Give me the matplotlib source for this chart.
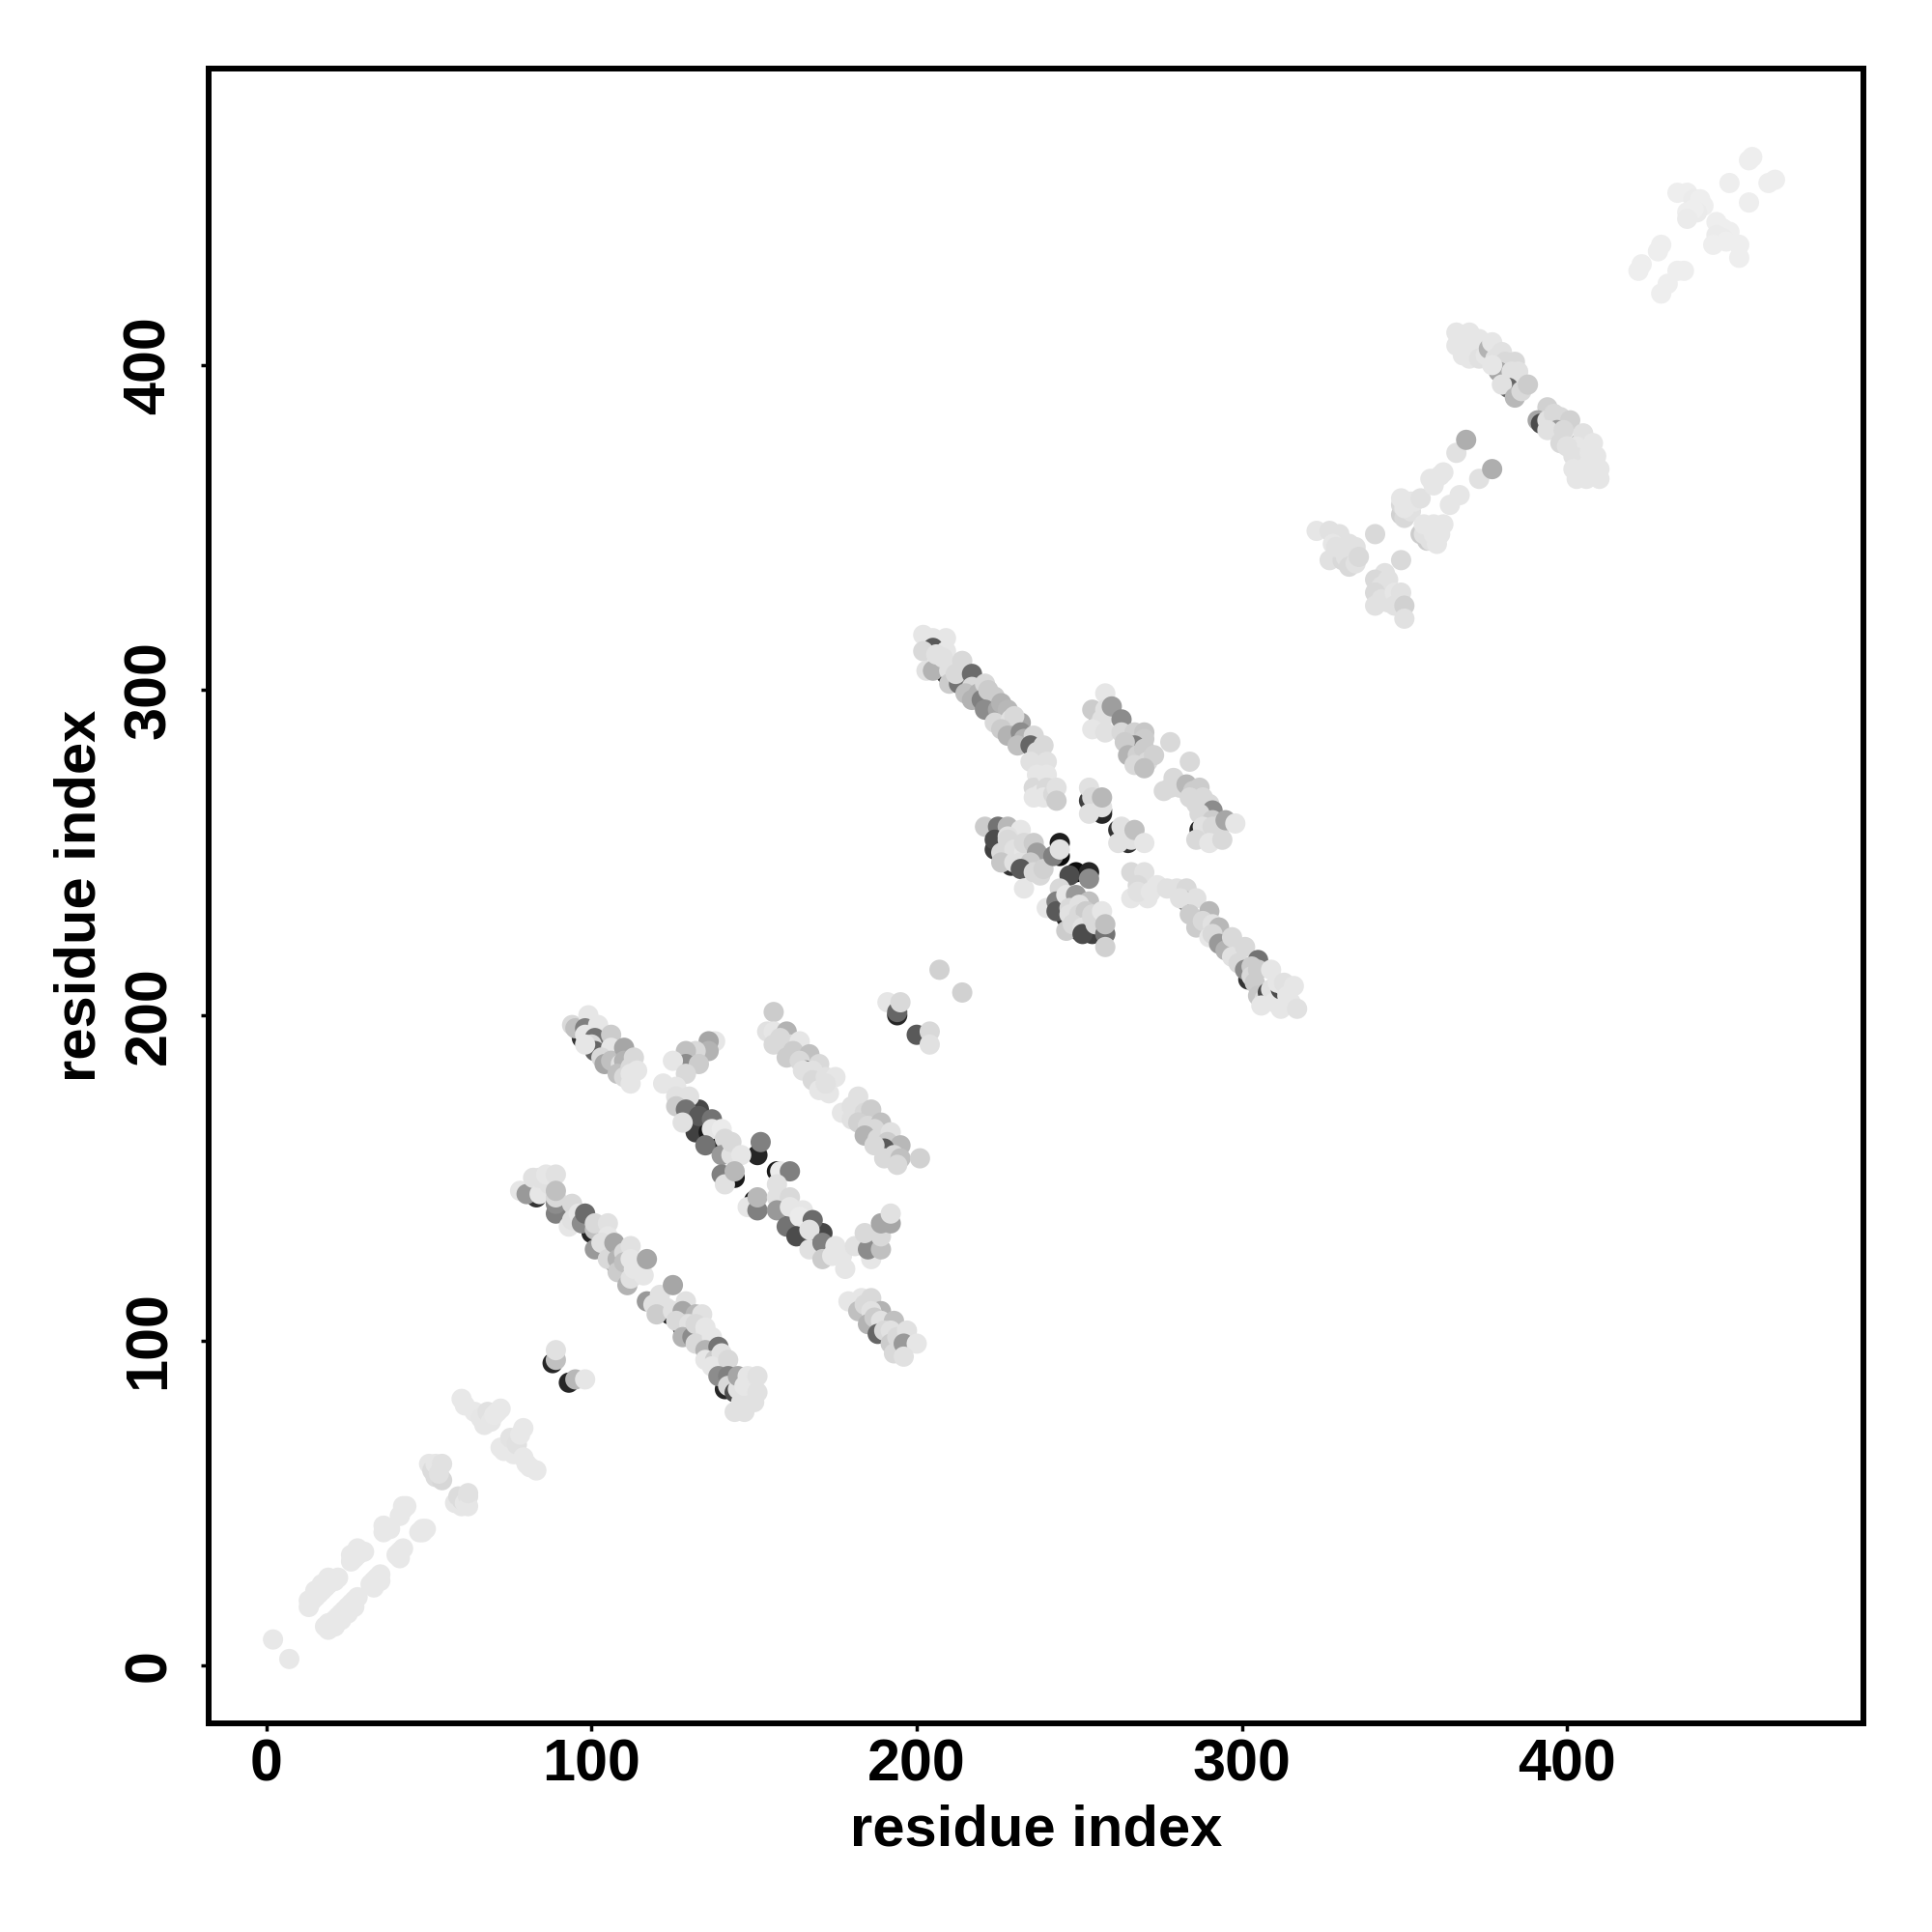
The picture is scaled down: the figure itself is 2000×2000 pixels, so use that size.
import numpy as np
import matplotlib
matplotlib.use("Agg")
from matplotlib import pyplot as plt

# contacts: (residue i, residue j, shade score)
low_up = [(2,8,.91),(7,2,.91),(13,18,.91),(14,20,.91),(15,21,.91),(16,22,.91),(17,23,.91),(18,24,.91),(19,25,.91),(20,26,.91),
          (21,26,.91),(22,27,.91),(26,32,.91),(27,33,.91),(28,34,.91),(29,35,.91),(30,35,.91),(36,41,.91),(37,42,.91),(38,42,.91),
          (41,46,.91),(42,48,.91),(43,49,.91),(13,20,.91),(15,23,.91),(17,25,.91),(19,27,.91),(26,34,.91),(28,36,.91),(36,43,.91),(42,49,.91)]
low_down = [(18,12,.91),(19,13,.91),(20,13,.91),(21,14,.91),(22,15,.91),(23,16,.91),(24,17,.91),(25,18,.91),(26,19,.91),(27,20,.91),
            (28,21,.91),(32,25,.91),(33,26,.91),(34,27,.91),(35,28,.91),(40,34,.91),(41,35,.91),(42,36,.91),(47,41,.91),(48,42,.91),(49,42,.91),
            (19,11,.91),(21,12,.91),(23,14,.91),(25,16,.91),(27,18,.91),(33,24,.91),(35,26,.91),(41,33,.91),(48,41,.91)]
low_blobs = [(50,62,.9),(51,60,.86),(52,58,.86),(53,61,.86),(54,57,.84),(52,62,.9),(53,59,.88),(54,62,.88),
             (58,50,.9),(59,52,.86),(60,49,.9),(60,51,.86),(61,50,.9),(62,52,.88),(62,49,.9),(62,53,.88),
             (60,82,.91),(61,80,.91),(64,78,.91),(66,76,.9),(67,74,.9),(68,78,.88),(69,75,.9),(70,77,.91),(71,78,.91),(72,79,.91),
             (72,67,.91),(73,66,.91),(75,70,.89),(76,65,.91),(77,68,.88),(78,71,.91),(79,73,.91),(79,64,.91),(80,62,.91),(81,61,.91),(83,60,.91)]
small_pair = [(88,93,.15),(89,94,.75),(89,97,.88),(93,87,.15),(95,88,.72),(98,88,.9)]

band_a = [(78,146,.9),(80,145,.6),(83,144,.2),(84,145,.9),(82,150,.88),(85,147,.9),(84,150,.88),(87,148,.88),(86,151,.9),(89,151,.88),(89,139,.5),(89,142,.55),(89,144,.85),(89,146,.75),
          (94,142,.85),(93,135,.9),(94,137,.88),(96,139,.9),(97,136,.55),(98,139,.42),(100,133,.15),(101,134,.75),(101,136,.85),(105,136,.88),(101,128,.6),(104,128,.2),(105,129,.85),(104,131,.1),(105,132,.9),
          (103,130,.88),(105,125,.85),(107,130,.65),(107,124,.1),(108,125,.7),(110,127,.85),(112,129,.88),(108,121,.8),(110,124,.75),(111,117,.7),(112,119,.88),(112,125,.9),(113,122,.9),(115,122,.9),(116,120,.9),(117,125,.65)]
band_b = [(117,112,.6),(119,111,.88),(121,114,.88),(125,117,.65),(129,112,.88),(122,110,.88),(123,110,.88),(120,108,.8),(124,108,.1),(125,109,.88),(127,108,.15),(128,109,.65),(132,108,.72),
          (128,104,.2),(129,105,.85),(126,106,.85),(130,105,.88),(134,108,.88),(128,101,.7),(131,101,.55),(132,105,.85),(134,101,.15),(135,102,.88),(135,104,.9),(132,99,.85),(137,101,.9),(135,97,.7),(139,98,.45),(135,94,.9),(138,94,.8),(140,96,.88),(137,92,.9),(142,94,.85),
          (139,89,.55),(142,89,.5),(141,85,.15),(142,86,.85),(144,84,.3),(145,85,.88),(145,89,.65),(144,78,.88),(147,78,.88),(146,81,.88),(150,81,.88),(147,86,.9),(148,89,.9),(151,84,.88),(151,89,.88)]
band_c = [(94,197,.85),(95,196,.75),(99,200,.9),(98,196,.5),(102,197,.9),(97,193,.2),(98,194,.9),(101,193,.45),(106,194,.8),(100,191,.85),(101,189,.4),(98,191,.9),
          (105,189,.1),(106,190,.9),(103,187,.85),(104,185,.65),(106,186,.75),(110,190,.65),(108,184,.15),(109,185,.88),(110,186,.7),(108,182,.75),(113,187,.85),(110,181,.85),(112,179,.9),(112,184,.85),(112,182,.9),(114,183,.9)]
v_left = [(138,192,.9),(136,192,.65),(136,189,.7),(132,189,.85),(129,189,.75),(129,185,.55),(133,185,.8),(125,186,.9),(129,182,.85),(122,179,.9),(126,178,.9)]
mid_band = [(126,175,.88),(130,175,.88),(126,172,.8),(129,171,.45),(132,168,.12),(133,169,.35),(133,171,.28),(128,167,.88),(137,168,.45),(132,164,.25),(136,164,.1),(137,165,.9),(140,165,.92),
            (135,160,.45),(140,161,.1),(141,162,.85),(140,157,.6),(143,157,.88),(143,161,.85),(146,157,.9),
            (151,157,.15),(152,161,.5),(144,150,.1),(140,151,.5),(141,148,.88),(144,152,.72),
            (157,152,.1),(158,152,.92),(161,152,.5),(157,148,.88),(150,143,.1),(148,141,.9),(151,140,.5),(151,144,.72),
            (157,144,.88),(161,144,.85),(157,140,.6),(160,140,.2),(161,141,.9),(165,140,.9),(160,135,.45),(163,137,.1),(164,138,.92),(168,137,.42),(163,132,.3),(166,133,.15),(167,134,.88),(167,128,.88),
            (171,130,.5),(171,133,.28),(171,125,.8),(174,126,.9),(175,129,.9),(177,126,.9),(178,122,.9)]
v_right = [(181,129,.88),(186,125,.9),(185,128,.55),(189,128,.75),(184,133,.85),(189,132,.85),(189,136,.65),(192,136,.65),(192,139,.88)]
band_d = [(179,112,.9),(183,113,.9),(186,113,.85),(182,109,.75),(184,111,.85),(189,109,.7),(185,108,.15),(186,109,.88),(185,105,.7),(187,107,.8),(188,105,.1),(189,106,.88),(193,106,.75),(188,102,.4),(190,103,.85),
          (191,102,.15),(192,103,.88),(192,99,.8),(194,101,.85),(193,96,.85),(197,103,.88),(196,99,.6),(200,99,.9),(196,95,.88)]
band_e = [(156,201,.8),(154,195,.88),(156,195,.9),(160,195,.7),(159,191,.4),(156,191,.85),(158,193,.85),(161,191,.85),(164,192,.9),(162,189,.8),(160,187,.8),(167,188,.75),(164,186,.85),
          (170,185,.85),(166,183,.45),(165,183,.88),(168,183,.88),(168,180,.85),(172,181,.88),(175,181,.9),(170,177,.9),(173,176,.9),(172,179,.88)]
band_f = [(182,175,.88),(177,170,.9),(180,172,.88),(180,168,.88),(184,170,.85),(186,171,.8),(182,167,.82),(185,166,.85),(189,167,.75),(186,164,.15),(187,165,.85),(184,163,.7),(188,162,.85),(192,164,.88),(191,161,.8),(195,160,.72),
          (190,159,.35),(187,160,.85),(193,157,.85),(190,156,.85),(195,156,.75),(194,154,.85),(201,156,.82)]
small_top = [(191,204,.9),(194,200,.15),(194,201,.4),(195,204,.85),(200,194,.35),(204,195,.85),(204,191,.88),(207,214,.82),(214,207,.82)]

band_g = [(202,317,.9),(205,316,.9),(209,316,.9),(205,313,.35),(202,312,.85),(203,306,.88),(205,306,.7),(209,312,.9),(207,309,.15),(208,310,.88),(206,311,.88),(209,305,.2),(210,306,.88),
          (214,309,.85),(210,302,.8),(213,302,.45),(212,305,.85),(217,305,.42),(217,301,.85),(215,299,.75),(217,297,.7),(219,299,.7),(221,302,.85),(220,297,.5),(222,300,.8),(224,298,.8),(221,294,.55),
          (225,294,.65),(226,296,.7),(228,294,.72),(224,290,.85),(228,290,.1),(229,291,.88),(232,290,.65),(230,292,.85),(226,288,.8),(228,286,.7),(232,287,.55),(233,285,.7),(236,286,.85),(231,283,.75),(235,283,.4),
          (237,281,.85),(239,283,.85),(235,278,.88),(240,278,.88),(238,276,.88),(237,274,.9),(236,270,.85),(236,267,.9),(240,274,.9),(238,268,.9),(240,270,.85),(239,267,.9),(242,268,.85),(243,270,.88),(243,266,.8)]
center_up = [(253,270,.88),(253,266,.25),(254,267,.85),(257,262,.15),(257,263,.15),(257,264,.88),(253,262,.88),(257,267,.72),
             (262,257,.2),(263,258,.88),(264,256,.15),(265,253,.2),(266,254,.88),(267,257,.75),(262,253,.88),(270,253,.9)]
band_h = [(258,299,.9),(254,294,.8),(257,293,.1),(258,294,.88),(256,290,.2),(257,291,.88),(254,288,.9),(260,295,.62),(263,291,.55),(258,287,.88),(263,287,.85),(267,287,.82),
          (270,287,.78),(270,285,.8),(267,283,.5),(264,284,.8),(265,280,.7),(268,280,.82),(270,282,.8),(271,278,.85),(278,284,.85),(273,280,.82),(267,277,.85),(270,276,.75)]
band_i = [(284,278,.85),(279,273,.85),(276,269,.85),(278,270,.85),(281,270,.85),(283,271,.72),(287,270,.8),(285,269,.8),(284,267,.85),(288,267,.85),(286,265,.85),(290,265,.85),(291,263,.55),(287,262,.85),(291,260,.8),
          (287,257,.15),(288,258,.88),(290,257,.2),(291,258,.85),(293,258,.2),(294,259,.85),(286,254,.85),(290,253,.9),(294,254,.85),(295,260,.65),(298,259,.9)]
center_left = [(221,258,.8),(225,258,.45),(228,258,.72),(232,257,.9),(224,254,.3),(224,251,.25),(227,254,.1),(228,255,.88),(228,254,.85),(226,250,.85),(229,250,.15),(230,251,.88),(226,247,.78),
               (229,246,.2),(230,247,.88),(232,249,.2),(233,250,.9),(232,247,.88),(233,253,.85),(236,253,.8),(237,250,.62),(235,247,.8),(232,245,.35),(233,239,.9),(236,244,.85),(238,243,.85),(239,245,.82),
               (242,249,.5),(244,249,.05),(244,251,.88),(244,253,.12),(247,243,.3),(249,244,.05),(253,242,.55),(253,244,.15)]
center_low = [(240,233,.9),(244,239,.85),(243,235,.5),(243,232,.35),(246,237,.9),(249,237,.6),(247,233,.85),(253,235,.75),(246,230,.15),(247,231,.88),(250,234,.88),(249,230,.15),(250,231,.85),
              (252,232,.8),(254,231,.85),(246,226,.8),(248,228,.85),(250,226,.1),(251,227,.88),(254,225,.25),(251,225,.3),(253,229,.1),(254,230,.85),(255,228,.85),(257,232,.9),(258,225,.45),(258,228,.75),(258,221,.82)]
band_j = [(266,244,.85),(270,244,.88),(266,236,.9),(271,236,.9),(268,240,.85),(268,238,.88),(272,238,.9),(274,240,.9),(277,239,.88),(280,239,.88),(283,239,.85),(283,235,.45),(281,236,.88),
          (286,236,.88),(284,231,.8),(290,232,.72),(286,227,.8),(288,229,.85),(290,227,.1),(291,228,.88),(293,227,.72),(290,224,.9),(291,225,.85),(293,222,.6),(295,220,.7),(297,224,.85),(297,218,.88),
          (299,216,.85),(301,221,.85),(301,214,.55),(305,217,.45),(303,215,.8),(302,211,.2),(303,212,.85),(305,214,.8),(304,210,.8),(309,214,.9),(305,206,.78),(307,205,.85),(308,207,.3),(309,208,.88),(306,203,.9),(310,204,.9),(312,208,.3),
          (313,209,.88),(311,210,.9),(313,210,.88),(316,209,.9),(314,206,.9),(312,202,.9),(315,204,.9),(317,202,.88)]

upper_left = [(323,349,.9),(327,349,.88),(330,348,.88),(328,345,.9),(330,343,.88),(333,345,.88),(327,340,.88),(331,340,.85),(332,341,.88),(335,344,.88),(329,344,.88),(333,338,.85),(335,339,.88),(336,341,.85),(341,348,.85),(349,340,.85),
              (344,336,.88),(341,334,.85),(345,334,.88),(343,332,.88),(341,330,.85),(343,328,.88),(341,326,.88),(345,327,.88),(347,330,.9),(347,326,.88),(349,330,.88),(350,326,.82),(350,322,.88)]
upper_mid = [(349,354,.82),(350,353,.85),(352,355,.88),(349,357,.85),(350,356,.9),(349,359,.9),(352,358,.9),(353,358,.9),(355,359,.88),(359,363,.9),(358,365,.9),(361,366,.9),(362,367,.9),(366,373,.88),(369,377,.68),
             (355,348,.8),(357,346,.8),(358,346,.88),(356,348,.88),(356,351,.9),(359,351,.9),(359,348,.9),(361,348,.9),(360,345,.9),(362,351,.9),(364,357,.9),(367,360,.9),(373,365,.88),(377,368,.68)]
upper_band = [(366,410,.9),(366,406,.9),(370,410,.9),(368,407,.9),(368,403,.9),(370,402,.9),(371,405,.9),(373,408,.9),(373,402,.88),(375,403,.9),(376,405,.7),(377,407,.9),(378,402,.88),(380,404,.88),(381,401,.85),
              (384,401,.85),(379,398,.65),(377,400,.9),(385,398,.88),(383,398,.88),(382,393,.4),(380,394,.88),(384,390,.72),(386,392,.85),(388,394,.8),(394,387,.82),(391,383,.65),
              (392,382,.3),(394,383,.88),(396,385,.85),(398,384,.85),(401,383,.82),(397,380,.6),(394,380,.88),(399,380,.85),(398,376,.85),(404,376,.7),(405,379,.88),(403,375,.9),(400,375,.88),(408,376,.9),
              (409,372,.9),(402,372,.88),(407,373,.9),(402,368,.9),(405,368,.9),(408,368,.9),(410,368,.9),(407,370,.9),(403,365,.9),(406,365,.9),(410,365,.9)]
top_right = [(457,464,.93),(456,463,.93),(464,457,.93),(462,456,.93),(450,456,.93),(456,450,.93),(434,453,.93),(437,453,.93),(439,451,.92),(441,451,.93),(442,449,.93),(440,447,.92),
             (439,448,.93),(437,447,.93),(437,445,.92),(446,444,.93),(448,442,.93),(450,441,.93),(446,440,.92),(448,439,.92),(445,437,.93),(449,438,.93),(453,437,.93),(453,433,.93),
             (429,437,.93),(428,435,.93),(423,431,.93),(422,429,.93),(436,429,.93),(434,429,.93),(431,425,.93),(429,422,.93)]

groups = [low_up, low_down, low_blobs, small_pair, band_a, band_b, band_c, v_left, mid_band, v_right, band_d, band_e, band_f, small_top,
          band_g, center_up, band_h, band_i, center_left, center_low, band_j, upper_left, upper_mid, upper_band, top_right]

ticks = [0, 100, 200, 300, 400]

plt.rcParams['font.family'] = ['Liberation Sans', 'DejaVu Sans']
plt.rcParams['font.weight'] = 'bold'

fig = plt.figure(figsize=(20, 20), dpi=100)
ax = fig.add_axes([216 / 2000, 1 - 1784 / 2000, (1929 - 216) / 2000, (1784 - 71) / 2000])

for g in groups:
    pts = np.array(g)
    # darkest ones go under the rest, that gives the crescents
    pts = pts[np.argsort(pts[:, 2] >= 0.3, kind='stable')]
    ax.scatter(pts[:, 0], pts[:, 1], c=pts[:, 2], cmap='gray', vmin=0, vmax=1, s=228, linewidths=0)

ax.set_xlim(-17.8, 491.2)
ax.set_ylim(-17.8, 491.2)
ax.set_xticks(ticks)
ax.set_yticks(ticks)
ax.tick_params(axis='x', length=6, width=2.5, labelsize=44, pad=5)
ax.tick_params(axis='y', length=6, width=2.5, labelsize=44, pad=17)
for lab in ax.get_yticklabels():
    lab.set_rotation(90)
    lab.set_va('center')
for s in ax.spines.values():
    s.set_linewidth(4.3)
ax.set_xlabel('residue index', fontsize=43, fontweight='bold', labelpad=8)
ax.set_ylabel('residue index', fontsize=43, fontweight='bold', labelpad=12)

fig.savefig('out.png', dpi=100)
